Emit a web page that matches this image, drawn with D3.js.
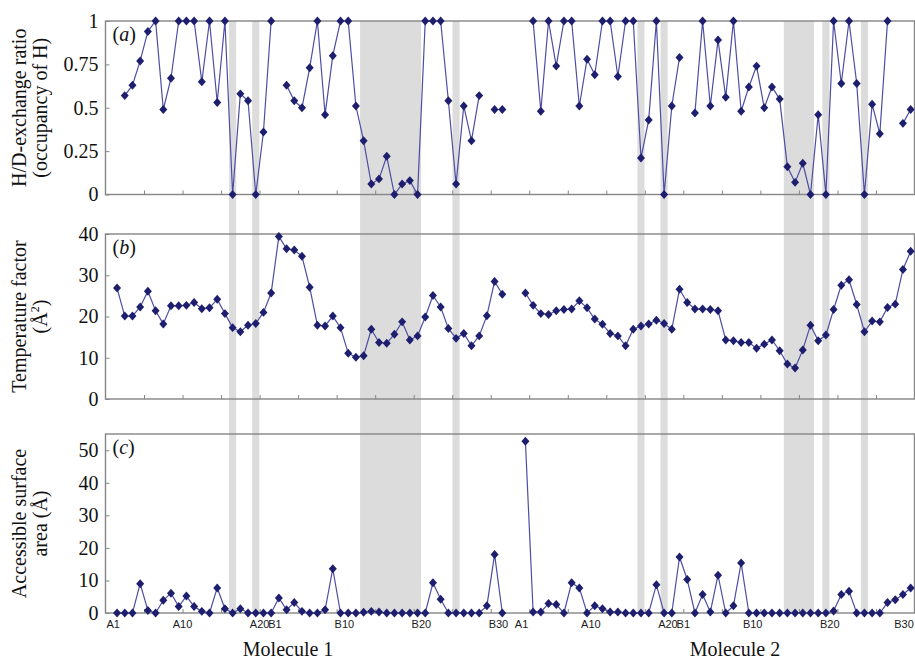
<!DOCTYPE html>
<html lang="en">
<head>
<meta charset="utf-8">
<title>H/D exchange, temperature factor and accessible surface area</title>
<script src="https://cdnjs.cloudflare.com/ajax/libs/d3/7.8.5/d3.min.js"></script>
<style type="text/css">
	body { margin: 0; background: #fff; }
	.frame { fill: none; stroke: #858585; stroke-width: 1.4px; }
	.band { fill: #dcdcdc; }
	.series { fill: none; stroke: #4d4da3; stroke-width: 1.2px; }
	.marker { fill: #1e1e6e; }
	.serif { font-family: "Liberation Serif", "Times New Roman", serif; font-size: 20px; fill: #111; }
	.res { font-family: "Liberation Sans", Arial, sans-serif; font-size: 11px; fill: #1a1a1a; }
</style>
</head>
<body>
<div id="chart"></div>
<script type="text/javascript">
	//residue names, chain A then chain B
	var chainA = d3.range(1, 22).map(function(i){ return "A" + i; });
	var chainB = d3.range(1, 31).map(function(i){ return "B" + i; });
	var residues = chainA.concat(chainB);

	//first category of each molecule on the shared x axis
	var molStart = [1, 54];
	var molNames = ["Molecule 1", "Molecule 2"];

	//residues written under the bottom panel
	var resLabels = ["A1", "A10", "A20", "B1", "B10", "B20", "B30"];

	//grey bands (first and last residue of each band)
	var shadeMol1 = [["A16", "A16"], ["A19", "A19"], ["B12", "B19"], ["B24", "B24"]];
	var shadeMol2 = [["A16", "A16"], ["A19", "A19"], ["B14", "B17"], ["B19", "B19"], ["B24", "B24"]];

	//(a) H/D-exchange ratio, null = no amide hydrogen
	var hdMol1 = [null, 0.57, 0.63, 0.77, 0.94, 1, 0.49, 0.67, 1, 1, 1, 0.65, 1, 0.53, 1, 0, 0.58, 0.54, 0, 0.36, 1,
		null, 0.63, 0.54, 0.50, 0.73, 1, 0.46, 0.80, 1, 1, 0.51, 0.31, 0.06, 0.09, 0.22, 0, 0.06, 0.08, 0, 1,
		1, 1, 0.54, 0.06, 0.51, 0.31, 0.57, null, 0.49, 0.49];
	var hdMol2 = [null, 1, 0.48, 1, 0.74, 1, 1, 0.51, 0.78, 0.69, 1, 1, 0.68, 1, 1, 0.21, 0.43, 1, 0, 0.51, 0.79,
		null, 0.47, 1, 0.51, 0.89, 0.56, 1, 0.48, 0.62, 0.74, 0.50, 0.62, 0.55, 0.16, 0.07, 0.18, 0, 0.46, 0, 1,
		0.64, 1, 0.64, 0, 0.52, 0.35, 1, null, 0.41, 0.49];
	var hdTicks = [0, 0.25, 0.5, 0.75, 1];

	//(b) temperature factor
	var tfMol1 = [26.9, 20.1, 20.1, 22.3, 26.1, 21.4, 18.2, 22.6, 22.6, 22.7, 23.4, 21.9, 22.1, 24.2, 20.7, 17.3, 16.3, 17.9, 18.3, 21.0, 25.7,
		39.4, 36.4, 36.1, 34.6, 27.1, 17.9, 17.7, 20.1, 17.3, 11.1, 10.1, 10.5, 16.9, 13.7, 13.5, 15.7, 18.7, 14.3, 15.3, 19.9,
		25.1, 22.3, 17.1, 14.7, 15.9, 12.9, 15.3, 20.2, 28.5, 25.4];
	var tfMol2 = [25.7, 22.7, 20.7, 20.5, 21.4, 21.7, 21.8, 23.8, 22.1, 19.4, 18.1, 15.9, 15.3, 12.9, 16.9, 17.7, 18.2, 19.1, 18.3, 16.9, 26.6,
		23.4, 21.8, 21.8, 21.7, 21.4, 14.3, 14.1, 13.7, 13.7, 12.3, 13.3, 14.3, 11.7, 8.5, 7.5, 11.9, 17.9, 14.1, 15.5, 21.7,
		27.6, 28.9, 22.9, 16.3, 18.9, 18.7, 22.2, 23.0, 31.4, 35.8];
	var tfTicks = [0, 10, 20, 30, 40];

	//(c) accessible surface area
	var asMol1 = [0, 0, 0, 9.0, 0.8, 0, 3.9, 6.1, 2.0, 5.2, 2.0, 0.5, 0, 7.7, 1.3, 0, 1.3, 0, 0, 0, 0,
		4.6, 1.0, 3.2, 0.5, 0, 0, 1.0, 13.6, 0, 0, 0, 0.2, 0.5, 0.3, 0, 0, 0, 0, 0, 0,
		9.3, 4.2, 0, 0, 0, 0, 0, 2.2, 18.0, 0];
	var asMol2 = [52.8, 0.3, 0.3, 2.9, 2.6, 0, 9.3, 7.7, 0, 2.2, 1.3, 0.3, 0.3, 0, 0, 0, 0, 8.7, 0, 0, 17.2,
		10.3, 0, 5.7, 0.3, 11.6, 0, 2.2, 15.4, 0, 0, 0, 0, 0, 0, 0, 0, 0, 0, 0, 0.6,
		5.7, 6.7, 0, 0, 0, 0, 3.2, 4.1, 5.7, 7.7];
	var asTicks = [0, 10, 20, 30, 40, 50];

	var width = 915;
	var height = 659;

	var panels = [
		{ tag: "a", top: 21, bottom: 194.5, max: 1, ticks: hdTicks, mols: [hdMol1, hdMol2],
		  title: [["H/D-exchange ratio"], ["(occupancy of H)"]] },
		{ tag: "b", top: 234, bottom: 399, max: 40, ticks: tfTicks, mols: [tfMol1, tfMol2],
		  title: [["Temperature factor"], ["(Å", "2", ")"]] },
		{ tag: "c", top: 434, bottom: 613, max: 55, ticks: asTicks, mols: [asMol1, asMol2],
		  title: [["Accessible surface"], ["area (Å)"]] }
	];

	var svg = d3.select("#chart")
		.append("svg")
		.attr("width", width)
		.attr("height", height);

	//category axis: one unit per residue, points sit in the middle of their category
	var x = d3.scaleLinear()
		.domain([0, 105])
		.range([105.5, 914.5]);

	function catOf(mol, name) {
		return molStart[mol] + residues.indexOf(name);
	}

	//grey bands run through all three panels
	var bands = [];
	[shadeMol1, shadeMol2].forEach(function(list, m){
		list.forEach(function(r){
			bands.push({ from: catOf(m, r[0]), to: catOf(m, r[1]) });
		});
	});

	svg.append("g")
		.selectAll("rect")
		.data(bands)
		.enter().append("rect")
			.attr("class", "band")
			.attr("x", function(d){ return x(d.from + 0.04); })
			.attr("width", function(d){ return x(d.to + 0.96) - x(d.from + 0.04); })
			.attr("y", panels[0].top)
			.attr("height", panels[2].bottom - panels[0].top);

	var diamond = {
		draw: function(ctx, size) {
			var r = Math.sqrt(size) / 2;
			ctx.moveTo(0, -r * 1.12);
			ctx.lineTo(r, 0);
			ctx.lineTo(0, r * 1.12);
			ctx.lineTo(-r, 0);
			ctx.closePath();
		}
	};

	var xTicks = d3.range(5, 105, 5);

	panels.forEach(function(p){
		var y = d3.scaleLinear()
			.domain([0, p.max])
			.range([p.bottom, p.top]);

		var g = svg.append("g");

		//tick marks pointing into the plot
		g.append("g")
			.attr("transform", "translate(" + x(0) + ",0)")
			.call(d3.axisLeft(y).tickValues(p.ticks).tickSizeInner(-4).tickSizeOuter(0).tickPadding(7)
				.tickFormat(function(v){ return String(v); }))
			.call(function(a){
				a.select(".domain").remove();
				a.selectAll("line").attr("stroke", "#858585");
				a.selectAll("text").attr("class", "serif").attr("font-size", null).attr("font-family", null).attr("fill", null);
			});

		g.append("g")
			.attr("transform", "translate(0," + p.bottom + ")")
			.call(d3.axisBottom(x).tickValues(xTicks).tickSizeInner(-4).tickSizeOuter(0).tickFormat(""))
			.call(function(a){
				a.select(".domain").remove();
				a.selectAll("line").attr("stroke", "#858585");
			});

		g.append("rect")
			.attr("class", "frame")
			.attr("x", x(0))
			.attr("y", p.top)
			.attr("width", x(105) - x(0))
			.attr("height", p.bottom - p.top);

		//one line and one set of markers per molecule
		var line = d3.line()
			.defined(function(d){ return d.v != null; })
			.x(function(d){ return x(d.c); })
			.y(function(d){ return y(d.v); });

		p.mols.forEach(function(vals, m){
			var pts = vals.map(function(v, i){ return { c: molStart[m] + i + 0.5, v: v }; });

			g.append("path")
				.datum(pts)
				.attr("class", "series")
				.attr("d", line);

			g.selectAll(".mk" + m)
				.data(pts.filter(function(d){ return d.v != null; }))
				.enter().append("path")
					.attr("class", "marker mk" + m)
					.attr("transform", function(d){ return "translate(" + x(d.c) + "," + y(d.v) + ")"; })
					.attr("d", d3.symbol().type(diamond).size(64));
		});

		//panel letter
		var lab = g.append("text")
			.attr("class", "serif")
			.attr("x", x(0) + 7)
			.attr("y", p.top + 20);
		lab.append("tspan").text("(");
		lab.append("tspan").attr("font-style", "italic").text(p.tag);
		lab.append("tspan").text(")");

		//two-line rotated axis title
		var mid = (p.top + p.bottom) / 2;
		p.title.forEach(function(parts, k){
			var t = g.append("text")
				.attr("class", "serif")
				.attr("text-anchor", "middle")
				.attr("transform", "translate(" + (26 + k * 21) + "," + mid + ") rotate(-90)");
			if (parts.length == 1) {
				t.text(parts[0]);
			} else {
				t.append("tspan").text(parts[0]);
				t.append("tspan").attr("font-size", "12px").attr("dy", "-8").text(parts[1]);
				t.append("tspan").attr("dy", "8").text(parts[2]);
			}
		});
	});

	//residue labels under the bottom panel
	var labs = [];
	molStart.forEach(function(s, m){
		resLabels.forEach(function(r){ labs.push({ name: r, c: catOf(m, r) }); });
	});

	svg.append("g")
		.selectAll("text")
		.data(labs)
		.enter().append("text")
			.attr("class", "res")
			.attr("text-anchor", "middle")
			.attr("x", function(d){ return Math.min(x(d.c), width - 11); })
			.attr("y", 628)
			.text(function(d){ return d.name; });

	svg.append("g")
		.selectAll("text")
		.data(molNames)
		.enter().append("text")
			.attr("class", "serif")
			.attr("text-anchor", "middle")
			.attr("x", function(d, i){ return x([23.7, 81.7][i]); })
			.attr("y", 656)
			.text(function(d){ return d; });
</script>
</body>
</html>
